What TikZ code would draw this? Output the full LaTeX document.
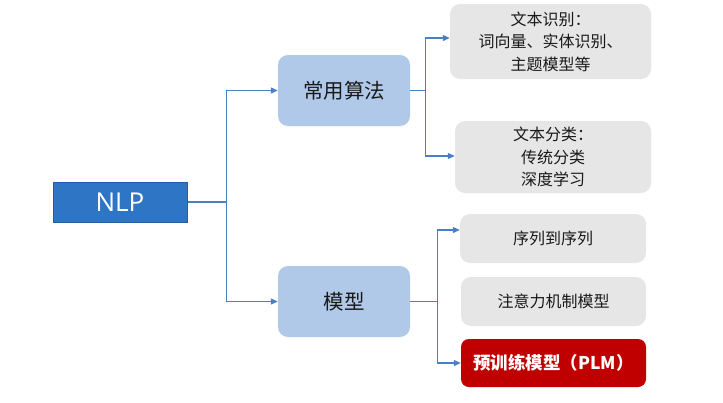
\documentclass[tikz,border=0pt]{standalone}
\usepackage{fontspec}
\setmainfont{Open Sans}
\newfontfamily\cjk{Noto Sans CJK SC}
\usetikzlibrary{arrows.meta,positioning}

\definecolor{nlpblue}{HTML}{2E75C6}
\definecolor{nlpedge}{HTML}{1F5FA8}
\definecolor{lightblue}{HTML}{B0C9E8}
\definecolor{boxgray}{HTML}{E6E6E6}
\definecolor{plmred}{HTML}{C00000}
\definecolor{linkblue}{HTML}{4A7EC5}

\tikzset{
    rootbox/.style={draw=nlpedge, fill=nlpblue, text=white, line width=1pt,
        minimum width=134pt, minimum height=40pt, font=\fontsize{26}{30}\selectfont},
    midbox/.style={fill=lightblue, rounded corners=10pt, text=black!90,
        minimum width=132pt, minimum height=71pt, font=\cjk\fontsize{20.5}{24}\selectfont},
    leafbox/.style={fill=boxgray, rounded corners=10pt, text=black!90, align=center,
        font=\cjk\fontsize{16}{22.5}\selectfont},
    link/.style={draw=linkblue, line width=1.1pt},
    linkarrow/.style={link, -{Triangle[length=7pt,width=6pt]}}
}

\begin{document}
\begin{tikzpicture}[x=1pt, y=-1pt]
    \useasboundingbox (0,0) rectangle (723,402);
    % root
    \node[rootbox] (nlp) at (120,202) {NLP};
    % second level
    \node[midbox] (algo) at (344,90.5) {常用算法};
    \node[midbox] (model) at (344,301.5) {模型};
    % leaves
    \node[leafbox, minimum width=201pt, minimum height=75pt] (recog) at (550.5,41.5)
        {文本识别：\\词向量、实体识别、\\主题模型等};
    \node[leafbox, minimum width=196pt, minimum height=72pt] (classify) at (553,157)
        {文本分类：\\传统分类\\深度学习};
    \node[leafbox, minimum width=186pt, minimum height=49pt] (seq) at (553,238.5) {序列到序列};
    \node[leafbox, minimum width=185pt, minimum height=49pt] (attn) at (553.5,301.5) {注意力机制模型};
    \node[leafbox, fill=plmred, text=white, rounded corners=8pt, minimum width=185pt,
        minimum height=48pt, font=\cjk\bfseries\fontsize{17.5}{20}\selectfont] (plm) at (553.5,363)
        {预训练模型（PLM）};
    % connectors
    \draw[link] (nlp.east) -- ++(39,0) coordinate (nlpfork);
    \draw[linkarrow] (nlpfork) |- (algo.west);
    \draw[linkarrow] (nlpfork) |- (model.west);
    \draw[link] (algo.east) -- ++(15,0) coordinate (algofork);
    \draw[linkarrow] (algofork) |- ([yshift=3.5pt]recog.west);
    \draw[linkarrow] (algofork) |- ([yshift=1pt]classify.west);
    \draw[link] (model.east) -- ++(27,0) coordinate (modelfork);
    \draw[linkarrow] (modelfork) |- ([yshift=8.5pt]seq.west);
    \draw[linkarrow] (modelfork) |- (plm.west);
\end{tikzpicture}
\end{document}
